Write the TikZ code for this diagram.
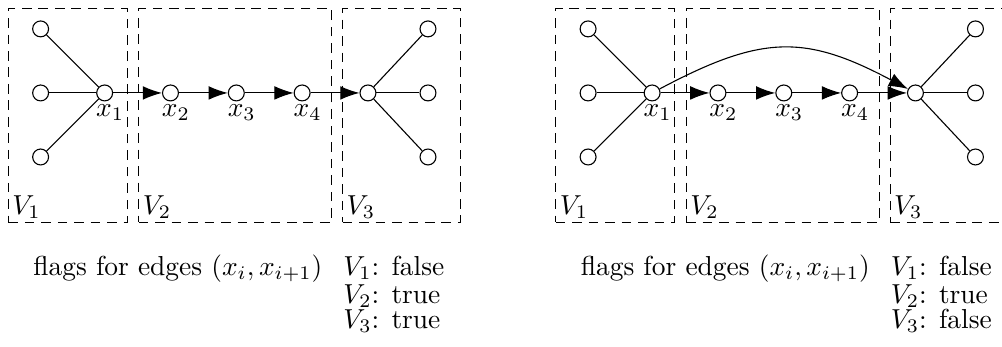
\documentclass[tikz,border=0pt]{standalone}
\usepackage{amsmath}
\usepackage{tikz}
\usetikzlibrary{arrows.meta, positioning}
\tikzset{
  vertex/.style={draw, circle, fill=white, inner sep=0pt, minimum size=5.8pt},
  region/.style={draw, dash pattern=on 3.5pt off 2.5pt, rectangle, anchor=north west,
                 minimum height=2.74cm, inner sep=0pt},
  reglab/.style={anchor=south west, inner sep=1.5pt},
  vlab/.style={inner sep=1pt, xshift=2pt},
  flagarr/.style={-{Latex[length=7pt, width=5pt]}},
  flagtxt/.style={anchor=base west, inner sep=0pt},
}

\begin{document}
\begin{tikzpicture}[node distance=0.625cm]
  \useasboundingbox (0,0) rectangle (12.83,-4.44);

  %% ── Left: path x1 ... x4 stays as it is ──────────────────────────────────
  \begin{scope}
    % regions
    \node[region, minimum width=1.52cm] (a-v1) at (0.10,-0.10) {};
    \node[region, minimum width=2.47cm] (a-v2) at (1.77,-0.10) {};
    \node[region, minimum width=1.51cm] (a-v3) at (4.38,-0.10) {};
    \node[reglab] (a-l1) at (a-v1.south west) {$V_1$};
    \node[reglab] (a-l2) at (a-v2.south west) {$V_2$};
    \node[reglab] (a-l3) at (a-v3.south west) {$V_3$};

    % path
    \node[vertex] (a-x1) at (1.34,-1.19) {};
    \node[vertex, right=of a-x1] (a-x2) {};
    \node[vertex, right=of a-x2] (a-x3) {};
    \node[vertex, right=of a-x3] (a-x4) {};
    \node[vertex, right=of a-x4] (a-c)  {};
    \node[vlab, below=0pt of a-x1] (a-n1) {$x_1$};
    \node[vlab, below=0pt of a-x2] (a-n2) {$x_2$};
    \node[vlab, below=0pt of a-x3] (a-n3) {$x_3$};
    \node[vlab, below=0pt of a-x4] (a-n4) {$x_4$};

    % outer vertices
    \node[vertex] (a-in1)  at (0.52,-0.37) {};
    \node[vertex] (a-in2)  at (0.52,-1.19) {};
    \node[vertex] (a-in3)  at (0.52,-2.01) {};
    \node[vertex] (a-out1) at (5.48,-0.37) {};
    \node[vertex] (a-out2) at (5.48,-1.19) {};
    \node[vertex] (a-out3) at (5.48,-2.01) {};

    \draw (a-in1) -- (a-x1);
    \draw (a-in2) -- (a-x1);
    \draw (a-in3) -- (a-x1);
    \draw (a-c) -- (a-out1);
    \draw (a-c) -- (a-out2);
    \draw (a-c) -- (a-out3);
    \draw[flagarr] (a-x1) -- (a-x2);
    \draw[flagarr] (a-x2) -- (a-x3);
    \draw[flagarr] (a-x3) -- (a-x4);
    \draw[flagarr] (a-x4) -- (a-c);

    % flags
    \node[flagtxt] (a-edges) at (0.42,-3.53) {flags for edges $(x_i,x_{i+1})$};
    \node[flagtxt] (a-f1) at (4.39,-3.53) {$V_1$: false};
    \node[flagtxt] (a-f2) at (4.39,-3.88) {$V_2$: true};
    \node[flagtxt] (a-f3) at (4.39,-4.21) {$V_3$: true};
  \end{scope}

  %% ── Right: shortcut x1 -> V3 ─────────────────────────────────────────────
  \begin{scope}[xshift=7.01cm]
    % regions
    \node[region, minimum width=1.52cm] (b-v1) at (0.10,-0.10) {};
    \node[region, minimum width=2.47cm] (b-v2) at (1.77,-0.10) {};
    \node[region, minimum width=1.51cm] (b-v3) at (4.38,-0.10) {};
    \node[reglab] (b-l1) at (b-v1.south west) {$V_1$};
    \node[reglab] (b-l2) at (b-v2.south west) {$V_2$};
    \node[reglab] (b-l3) at (b-v3.south west) {$V_3$};

    % path
    \node[vertex] (b-x1) at (1.34,-1.19) {};
    \node[vertex, right=of b-x1] (b-x2) {};
    \node[vertex, right=of b-x2] (b-x3) {};
    \node[vertex, right=of b-x3] (b-x4) {};
    \node[vertex, right=of b-x4] (b-c)  {};
    \node[vlab, below=0pt of b-x1] (b-n1) {$x_1$};
    \node[vlab, below=0pt of b-x2] (b-n2) {$x_2$};
    \node[vlab, below=0pt of b-x3] (b-n3) {$x_3$};
    \node[vlab, below=0pt of b-x4] (b-n4) {$x_4$};

    % outer vertices
    \node[vertex] (b-in1)  at (0.52,-0.37) {};
    \node[vertex] (b-in2)  at (0.52,-1.19) {};
    \node[vertex] (b-in3)  at (0.52,-2.01) {};
    \node[vertex] (b-out1) at (5.48,-0.37) {};
    \node[vertex] (b-out2) at (5.48,-1.19) {};
    \node[vertex] (b-out3) at (5.48,-2.01) {};

    \draw (b-in1) -- (b-x1);
    \draw (b-in2) -- (b-x1);
    \draw (b-in3) -- (b-x1);
    \draw (b-c) -- (b-out1);
    \draw (b-c) -- (b-out2);
    \draw (b-c) -- (b-out3);
    \draw[flagarr] (b-x1) -- (b-x2);
    \draw[flagarr] (b-x2) -- (b-x3);
    \draw[flagarr] (b-x3) -- (b-x4);
    \draw[flagarr] (b-x4) -- (b-c);
    \draw[flagarr] (b-x1) to[bend left=28, looseness=1.2] (b-c);

    % flags
    \node[flagtxt] (b-edges) at (0.42,-3.53) {flags for edges $(x_i,x_{i+1})$};
    \node[flagtxt] (b-f1) at (4.39,-3.53) {$V_1$: false};
    \node[flagtxt] (b-f2) at (4.39,-3.88) {$V_2$: true};
    \node[flagtxt] (b-f3) at (4.39,-4.21) {$V_3$: false};
  \end{scope}
\end{tikzpicture}
\end{document}
